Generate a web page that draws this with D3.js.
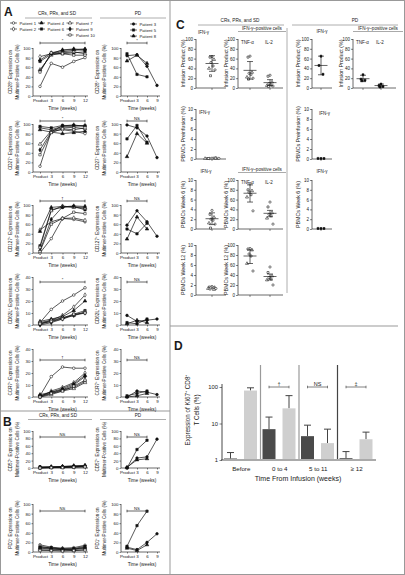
<!DOCTYPE html>
<html><head><meta charset="utf-8">
<script src="https://cdn.jsdelivr.net/npm/d3@7"></script>
<style>
body{margin:0;background:#fff}
svg{display:block}
text{font-family:"Liberation Sans",Arial,Helvetica,sans-serif;fill:#1a1a1a}
</style>
</head><body><svg id="c" width="405" height="575"></svg>
<script>
// ---------------- DATA ----------------
const weeksCR = [0,3,6,9,12];
const weeksPD = [0,3,6,9];
const weekLabelsCR = ["Product","3","6","9","12"];
const weekLabelsPD = ["Product","3","6","9"];
const patientsCR = ["Patient 1","Patient 2","Patient 4","Patient 6","Patient 7","Patient 9","Patient 10"];
const patientsPD = ["Patient 3","Patient 5","Patient 8"];

const cd28CR = [[20,68,60,72,80],[82,88,92,95,97],[75,90,95,97,98],[72,87,88,90,92],[55,85,90,92,88],[52,88,96,98,95],[50,90,88,85,85]];
const cd28PD = [[84,86,62,22],[88,45,40],[73,85,68]];
const cd27CR = [[12,85,88,85,80],[92,88,95,95,97],[88,83,80,82,85],[95,92,97,97,96],[58,86,92,93,90],[46,84,96,98,95],[36,82,90,88,92]];
const cd27PD = [[98,92,75,30],[69,97,62],[32,80,60]];
const cd127CR = [[0,30,72,70,65],[48,65,72,73,68],[45,95,97,96,95],[15,90,95,97,90],[12,88,98,95,93],[5,70,96,98,97],[3,60,72,85,82]];
const cd127PD = [[58,88,65,35],[50,40,62],[29,75,50]];
const cd62lCR = [[2,13,20,25,31],[1,4,8,15,25],[3,5,7,12,20],[1,3,6,9,12],[2,4,6,8,11],[0,2,5,8,10],[1,3,5,9,10]];
const cd62lPD = [[8,3,4,5],[2,1,5],[1,4,2]];
const ccr7CR = [[1,17,25,24,24],[0,5,8,12,20],[2,4,7,11,18],[1,3,6,8,13],[0,2,5,7,12],[1,4,6,10,17],[0,3,5,9,14]];
const ccr7PD = [[0,5,4,2],[1,3,5],[0,1,3]];
const cd57CR = [[1,2,3,4,5],[2,3,4,5,6],[0,1,2,3,4],[3,2,3,4,5],[1,2,2,3,4],[2,3,4,6,7],[0,1,1,2,3]];
const cd57PD = [[1,27,30,78],[0,50,75],[2,22,25]];
const pd1CR = [[15,10,8,9,14],[12,8,7,6,10],[8,6,5,5,8],[10,9,6,7,12],[5,4,4,3,5],[9,7,5,6,9],[3,3,2,3,4]];
const pd1PD = [[10,5,20,38],[12,55,85],[8,3,15]];

// Panel C: values and [mean, low, high]
const ifnInfCR = [64,63,58,52,45,40,37,25];       const ifnInfCRStat = [50,34,66];
const tnfInfCR = [65,63,32,30,28,22,20,18];       const tnfInfCRStat = [36,18,54];
const il2InfCR = [26,24,12,9,6,5,4,3];            const il2InfCRStat = [11,5,17];
const ifnInfPD = [65,46,28];                      const ifnInfPDStat = [46,27,65];
const tnfInfPD = [27,18,16,15];                   const tnfInfPDStat = [19,13,26];
const il2InfPD = [8,5,3,2];                       const il2InfPDStat = [5,2,8];
const ifnPreCR = [0.15,0.1,0.12,0.1,0.18,0.1,0.12,0.1,0.15];
const ifnPrePD = [0.1,0.12,0.1];
const ifnW6CR = [3.8,3.0,2.4,2.0,1.8,1.2,1.0,0.2]; const ifnW6CRStat = [2.1,0.9,3.3];
const tnfW6CR = [92,80,78,75,70,65,37];           const tnfW6CRStat = [73,55,90];
const il2W6CR = [55,45,33,30,27,22,10];           const il2W6CRStat = [32,25,38];
const ifnW6PD = [0.1,0.12,0.1];
const ifnW12CR = [1.7,1.6,1.5,1.5,1.4,1.3,1.3,1.2,1.1];
const tnfW12CR = [93,92,90,82,78,63,48];          const tnfW12CRStat = [78,63,90];
const il2W12CR = [56,45,38,35,32,30,20];          const il2W12CRStat = [37,30,42];

// Panel D
const dGroups = ["Before","0 to 4","5 to 11","\u2265 12"];
const ki67Dark = [1.1,7,4.5,1.12];
const ki67DarkErr = [1.6,15,9,1.7];
const ki67Light = [80,26,2.9,3.7];
const ki67LightErr = [95,58,7,5.8];
const dSig = [null,"\u2020","NS","\u2021"];

// ---------------- DRAW ----------------
const svg = d3.select("#c");
const INK = "#1a1a1a";

function txt(x,y,s,size,anchor="middle",rot=false,weight="normal"){
  const t = svg.append("text").attr("x",x).attr("y",y).text(s)
    .attr("font-size",size).attr("text-anchor",anchor).attr("font-weight",weight);
  if(rot) t.attr("transform",`rotate(-90,${x},${y})`);
  return t;
}
function ln(x1,y1,x2,y2,col="#999",w=0.8){
  svg.append("line").attr("x1",x1).attr("y1",y1).attr("x2",x2).attr("y2",y2)
    .attr("stroke",col).attr("stroke-width",w);
}
function styleAxis(a,fs){
  a.select(".domain").remove();
  a.selectAll("line").attr("stroke",INK).attr("stroke-width",0.55);
  a.selectAll("text").attr("font-size",fs).attr("fill",INK);
}

// frame & dividers
svg.append("rect").attr("x",0.5).attr("y",0.5).attr("width",404).attr("height",574)
  .attr("fill","none").attr("stroke","#999").attr("stroke-width",1);
ln(170,0,170,575,"#999",1);
ln(0,411,170,411,"#999",1);
ln(170,326,398,326,"#999",1);
ln(287,28,287,293,"#999",0.8);

// panel letters
txt(4,16,"A",12,"start",false,"bold");
txt(3,426,"B",12,"start",false,"bold");
txt(176,29,"C",12,"start",false,"bold");
txt(174,350,"D",12,"start",false,"bold");

// headers
txt(57,15,"CRs, PRs, and SD",4.6); ln(25,18,92,18);
txt(138,15,"PD",4.6); ln(100,18,166,18);
txt(58,417,"CRs, PRs, and SD",4.6); ln(28,419.5,92,419.5);
txt(138,417,"PD",4.6); ln(100,419.5,166,419.5);
txt(240,22,"CRs, PRs, and SD",4.7); ln(198,25,284,25);
txt(355,22,"PD",4.7); ln(292,25,398,25);

const mkCR = [
  {t:d3.symbolCircle,f:"#fff"},{t:d3.symbolDiamond,f:"#fff"},{t:d3.symbolTriangle,f:"#111"},
  {t:d3.symbolSquare,f:"#111"},{t:d3.symbolTriangle,f:"#fff"},{t:d3.symbolDiamond,f:"#111"},
  {t:d3.symbolSquare,f:"#fff"}];
const mkPD = [{t:d3.symbolCircle,f:"#111"},{t:d3.symbolSquare,f:"#111"},{t:d3.symbolTriangle,f:"#111"}];

function marker(g,x,y,mk,size=6){
  g.append("path").attr("d",d3.symbol().type(mk.t).size(size)())
    .attr("transform",`translate(${x},${y})`).attr("fill",mk.f)
    .attr("stroke","#111").attr("stroke-width",0.55);
}

// legend
const legPosCR = [[13.5,23],[13.5,29],[41.5,23],[41.5,29],[70,23],[70,29],[70,35]];
patientsCR.forEach((p,i)=>{
  const [x,y]=legPosCR[i];
  ln(x-3.5,y,x+3.5,y,"#111",0.6);
  marker(svg,x,y,mkCR[i],5.5);
  txt(x+6,y+1.5,p,4.2,"start");
});
patientsPD.forEach((p,i)=>{
  const x=133.5,y=24+i*6;
  ln(x-3.5,y,x+3.5,y,"#111",0.6);
  marker(svg,x,y,mkPD[i],5.5);
  txt(x+6,y+1.5,p,4.2,"start");
});

function sigBar(g,x0,x1,y,label,col="#333"){
  g.append("line").attr("x1",x0).attr("x2",x1).attr("y1",y).attr("y2",y).attr("stroke",col).attr("stroke-width",0.75);
  [x0,x1].forEach(x=>g.append("line").attr("x1",x).attr("x2",x).attr("y1",y-1.3).attr("y2",y+1.3).attr("stroke",col).attr("stroke-width",0.75));
  g.append("text").attr("x",(x0+x1)/2).attr("y",y-1.3).attr("text-anchor","middle").attr("font-size",4.2).text(label);
}

function lineChart(o){
  const g = svg.append("g");
  const x = d3.scaleLinear().domain([0,d3.max(o.weeks)]).range(o.xr);
  const y = d3.scaleLinear().domain([0,o.ymax]).range([o.yBot,o.yTop]);
  const ya = g.append("g").attr("transform",`translate(${o.axisX},0)`)
    .call(d3.axisLeft(y).tickValues(d3.range(0,o.ymax+1e-9,o.ystep)).tickSize(1.5).tickPadding(1));
  const xa = g.append("g").attr("transform",`translate(0,${o.yBot})`)
    .call(d3.axisBottom(x).tickValues(o.weeks).tickFormat((d,i)=>o.labels[i]).tickSize(1.5).tickPadding(1));
  styleAxis(ya,4.4); styleAxis(xa,4.4);
  g.append("line").attr("x1",o.axisX).attr("x2",o.axisX).attr("y1",o.yBot).attr("y2",o.yTop).attr("stroke",INK).attr("stroke-width",0.65);
  g.append("line").attr("x1",o.axisX).attr("x2",o.xr[1]+3).attr("y1",o.yBot).attr("y2",o.yBot).attr("stroke",INK).attr("stroke-width",0.65);
  const line = d3.line().x((d,i)=>x(o.weeks[i])).y(d=>y(d));
  o.data.forEach((s,k)=>{
    g.append("path").attr("d",line(s)).attr("fill","none").attr("stroke","#111").attr("stroke-width",0.7);
  });
  o.data.forEach((s,k)=>{
    s.forEach((v,i)=>marker(g,x(o.weeks[i]),y(v),o.marks[k],5.5));
  });
  sigBar(g,x(o.sigFrom),x(o.sigTo),o.sigY,o.sig);
  const cy=(o.yTop+o.yBot)/2;
  g.append("text").attr("x",o.titleX).attr("y",cy).attr("text-anchor","middle").attr("font-size",4.6)
    .attr("transform",`rotate(-90,${o.titleX},${cy})`).text(o.marker+" Expression on");
  g.append("text").attr("x",o.titleX+7).attr("y",cy).attr("text-anchor","middle").attr("font-size",4.6)
    .attr("transform",`rotate(-90,${o.titleX+7},${cy})`).text("Multimer-Positive Cells (%)");
  g.append("text").attr("x",(o.xr[0]+o.xr[1])/2).attr("y",o.yBot+14).attr("text-anchor","middle")
    .attr("font-size",4.8).text("Time (weeks)");
}

const rows = [
  {m:"CD28\u207A",ymax:100,ystep:20,yTop:48,yBot:96,cr:cd28CR,pd:cd28PD,sc:"*",sp:"*",sy:43},
  {m:"CD27\u207A",ymax:100,ystep:20,yTop:124,yBot:172,cr:cd27CR,pd:cd27PD,sc:"*",sp:"NS",sy:121},
  {m:"CD127\u207A",ymax:100,ystep:20,yTop:205,yBot:253,cr:cd127CR,pd:cd127PD,sc:"\u2020",sp:"NS",sy:201},
  {m:"CD62L\u207A",ymax:40,ystep:10,yTop:277,yBot:325,cr:cd62lCR,pd:cd62lPD,sc:"*",sp:"NS",sy:282},
  {m:"CCR7\u207A",ymax:40,ystep:10,yTop:349,yBot:397,cr:ccr7CR,pd:ccr7PD,sc:"\u2020",sp:"NS",sy:360},
  {m:"CD57\u207A",ymax:100,ystep:20,yTop:431,yBot:468,cr:cd57CR,pd:cd57PD,sc:"NS",sp:"NS",sy:437},
  {m:"PD1\u207A",ymax:100,ystep:20,yTop:504,yBot:552,cr:pd1CR,pd:pd1PD,sc:"NS",sp:"NS",sy:511}
];
rows.forEach(r=>{
  lineChart({axisX:33,xr:[40,85],weeks:weeksCR,labels:weekLabelsCR,ymax:r.ymax,ystep:r.ystep,
    yTop:r.yTop,yBot:r.yBot,data:r.cr,marks:mkCR,sig:r.sc,sigY:r.sy,sigFrom:0,sigTo:12,marker:r.m,titleX:12});
  lineChart({axisX:121,xr:[127,157],weeks:weeksPD,labels:weekLabelsPD,ymax:r.ymax,ystep:r.ystep,
    yTop:r.yTop,yBot:r.yBot,data:r.pd,marks:mkPD,sig:r.sp,sigY:r.sy,sigFrom:0,sigTo:6,marker:r.m,titleX:99});
});

// ---------- Panel C ----------
const jit = [0,-2,2,-1,1,-3,3,-1.5,1.5];
function dotPanel(o){
  const g = svg.append("g");
  const y = d3.scaleLinear().domain([0,o.ymax]).range([o.yBot,o.yTop]);
  const ya = g.append("g").attr("transform",`translate(${o.axisX},0)`)
    .call(d3.axisLeft(y).tickValues(d3.range(0,o.ymax+1e-9,o.ystep)).tickSize(2).tickPadding(1));
  styleAxis(ya,4.5);
  g.append("line").attr("x1",o.axisX).attr("x2",o.axisX).attr("y1",o.yBot).attr("y2",o.yTop).attr("stroke",INK).attr("stroke-width",0.65);
  g.append("line").attr("x1",o.axisX).attr("x2",o.xEnd).attr("y1",o.yBot).attr("y2",o.yBot).attr("stroke",INK).attr("stroke-width",0.65);
  o.groups.forEach(gr=>{
    g.append("line").attr("x1",gr.cx).attr("x2",gr.cx).attr("y1",o.yBot).attr("y2",o.yBot+2).attr("stroke",INK).attr("stroke-width",0.5);
    gr.vals.forEach((v,i)=>{
      const mk = o.pd ? {t:d3.symbolSquare,f:"#111"} : {t:(i%3===1?d3.symbolSquare:(i%3===2?d3.symbolTriangle:d3.symbolCircle)),f:"#fff"};
      marker(g,gr.cx+jit[i]*(o.spread||1),y(v),mk,4);
    });
    if(gr.stat){
      const [m,lo,hi]=gr.stat;
      g.append("line").attr("x1",gr.cx).attr("x2",gr.cx).attr("y1",y(lo)).attr("y2",y(hi)).attr("stroke","#111").attr("stroke-width",0.65);
      [lo,hi].forEach(v=>g.append("line").attr("x1",gr.cx-3).attr("x2",gr.cx+3).attr("y1",y(v)).attr("y2",y(v)).attr("stroke","#111").attr("stroke-width",0.65));
      g.append("line").attr("x1",gr.cx-6.5).attr("x2",gr.cx+6.5).attr("y1",y(m)).attr("y2",y(m)).attr("stroke","#111").attr("stroke-width",0.65);
    }
  });
  const cy=(o.yTop+o.yBot)/2;
  g.append("text").attr("x",o.titleX).attr("y",cy).attr("text-anchor","middle").attr("font-size",5.3)
    .attr("transform",`rotate(-90,${o.titleX},${cy})`).text(o.title);
  (o.labels||[]).forEach(l=>g.append("text").attr("x",l[0]).attr("y",l[1]).attr("text-anchor",l[3]||"start").attr("font-size",4.5).text(l[2]));
}
function posHeader(cx,y,x0,x1){
  txt(cx,y,"IFN-\u03B3\u2013positive cells",4.6);
  ln(x0,y+1.5,x1,y+1.5,"#555",0.5);
}
const R1=[39,88],R2=[109,159],R3=[180,229],R4=[245,295];
// CR col1
dotPanel({axisX:196,xEnd:226,yTop:R1[0],yBot:R1[1],ymax:100,ystep:20,title:"Infusion Product (%)",titleX:185,
  groups:[{cx:212,vals:ifnInfCR,stat:ifnInfCRStat}],labels:[[198,34,"IFN-\u03B3"]]});
dotPanel({axisX:196,xEnd:226,yTop:R2[0],yBot:R2[1],ymax:10,ystep:2,title:"PBMCs Preinfusion (%)",titleX:185,spread:2.3,
  groups:[{cx:212,vals:ifnPreCR}],labels:[[199,114,"IFN-\u03B3"]]});
dotPanel({axisX:196,xEnd:226,yTop:R3[0],yBot:R3[1],ymax:10,ystep:2,title:"PBMCs Week 6 (%)",titleX:185,
  groups:[{cx:212,vals:ifnW6CR,stat:ifnW6CRStat}],labels:[[206,173,"IFN-\u03B3","middle"]]});
dotPanel({axisX:196,xEnd:226,yTop:R4[0],yBot:R4[1],ymax:10,ystep:2,title:"PBMCs Week 12 (%)",titleX:185,spread:1.3,
  groups:[{cx:212,vals:ifnW12CR}]});
// CR col2
posHeader(262,30,238,286);
dotPanel({axisX:238,xEnd:283,yTop:R1[0],yBot:R1[1],ymax:100,ystep:20,title:"Infusion Product (%)",titleX:228,
  groups:[{cx:250,vals:tnfInfCR,stat:tnfInfCRStat},{cx:270,vals:il2InfCR,stat:il2InfCRStat}],
  labels:[[241,44,"TNF-\u03B1"],[265,44,"IL-2"]]});
posHeader(262,171,238,286);
dotPanel({axisX:238,xEnd:283,yTop:R3[0],yBot:R3[1],ymax:100,ystep:20,title:"PBMCs Week 6 (%)",titleX:228,
  groups:[{cx:250,vals:tnfW6CR,stat:tnfW6CRStat},{cx:270,vals:il2W6CR,stat:il2W6CRStat}],
  labels:[[241,184,"TNF-\u03B1"],[265,184,"IL-2"]]});
dotPanel({axisX:238,xEnd:283,yTop:R4[0],yBot:R4[1],ymax:100,ystep:20,title:"PBMCs Week 12 (%)",titleX:228,
  groups:[{cx:250,vals:tnfW12CR,stat:tnfW12CRStat},{cx:270,vals:il2W12CR,stat:il2W12CRStat}]});
// PD col1
dotPanel({axisX:312,xEnd:332,yTop:R1[0],yBot:R1[1],ymax:100,ystep:20,title:"Infusion Product (%)",titleX:300,pd:true,
  groups:[{cx:321,vals:ifnInfPD,stat:ifnInfPDStat}],labels:[[322,33,"IFN-\u03B3","middle"]]});
dotPanel({axisX:312,xEnd:332,yTop:R2[0],yBot:R2[1],ymax:10,ystep:2,title:"PBMCs Preinfusion (%)",titleX:300,pd:true,spread:1.5,
  groups:[{cx:321,vals:ifnPrePD}],labels:[[319,115,"IFN-\u03B3"]]});
dotPanel({axisX:312,xEnd:332,yTop:R3[0],yBot:R3[1],ymax:10,ystep:2,title:"PBMCs Week 6 (%)",titleX:300,pd:true,spread:1.5,
  groups:[{cx:321,vals:ifnW6PD}],labels:[[322,173,"IFN-\u03B3","middle"]]});
// PD col2
posHeader(378,30,353,403);
dotPanel({axisX:353,xEnd:396,yTop:R1[0],yBot:R1[1],ymax:100,ystep:20,title:"Infusion Product (%)",titleX:343,pd:true,
  groups:[{cx:363,vals:tnfInfPD,stat:tnfInfPDStat},{cx:381,vals:il2InfPD,stat:il2InfPDStat}],
  labels:[[356,44,"TNF-\u03B1"],[376,44,"IL-2"]]});

// ---------- Panel D ----------
(function(){
  const g = svg.append("g");
  const x = d3.scaleBand().domain(dGroups).range([222,376]);
  const y = d3.scaleLog().domain([1,100]).range([460,387]);
  const bw = 13;
  dGroups.slice(1).forEach((d,i)=>{
    g.append("line").attr("x1",x(d)).attr("x2",x(d)).attr("y1",365).attr("y2",460)
      .attr("stroke",i===2?"#444":"#9a9a9a").attr("stroke-width",1.2);
  });
  dGroups.forEach((d,i)=>{
    const x0=x(d)+2, x1=x(d)+22;
    [[x0,ki67Dark[i],ki67DarkErr[i],"#4a4a4a"],[x1,ki67Light[i],ki67LightErr[i],"#cfcfcf"]].forEach(([bx,v,e,c])=>{
      g.append("line").attr("x1",bx+bw/2).attr("x2",bx+bw/2).attr("y1",y(v)).attr("y2",y(e)).attr("stroke","#444").attr("stroke-width",1);
      g.append("line").attr("x1",bx+bw/2-3.5).attr("x2",bx+bw/2+3.5).attr("y1",y(e)).attr("y2",y(e)).attr("stroke","#444").attr("stroke-width",1);
      g.append("rect").attr("x",bx).attr("width",bw).attr("y",y(v)).attr("height",y(1)-y(v)).attr("fill",c);
    });
    if(dSig[i]) sigBar(g,x0+bw/2,x1+bw/2,387,dSig[i],"#555");
    g.append("text").attr("x",x(d)+x.bandwidth()/2).attr("y",470.5).attr("text-anchor","middle").attr("font-size",6.2).text(d);
  });
  g.selectAll("text").filter(function(){return this.textContent && dSig.includes(this.textContent);}).attr("font-size",5.5);
  g.append("line").attr("x1",221).attr("x2",376).attr("y1",460).attr("y2",460).attr("stroke","#aaa").attr("stroke-width",2);
  g.append("line").attr("x1",222).attr("x2",222).attr("y1",460).attr("y2",384).attr("stroke",INK).attr("stroke-width",0.8);
  const ya = g.append("g").attr("transform","translate(222,0)")
    .call(d3.axisLeft(y).tickValues([1,10,100]).tickFormat(d3.format("d")).tickSize(2.5).tickPadding(1.5));
  styleAxis(ya,5.8);
  g.append("text").attr("x",298).attr("y",481).attr("text-anchor","middle").attr("font-size",7).text("Time From Infusion (weeks)");
  g.append("text").attr("x",190).attr("y",410).attr("text-anchor","middle").attr("font-size",6.3)
    .attr("transform","rotate(-90,190,410)").text("Expression of Ki67\u207A CD8\u207A");
  g.append("text").attr("x",198.5).attr("y",410).attr("text-anchor","middle").attr("font-size",6.3)
    .attr("transform","rotate(-90,198.5,410)").text("T Cells (%)");
})();
</script>
</body></html>
